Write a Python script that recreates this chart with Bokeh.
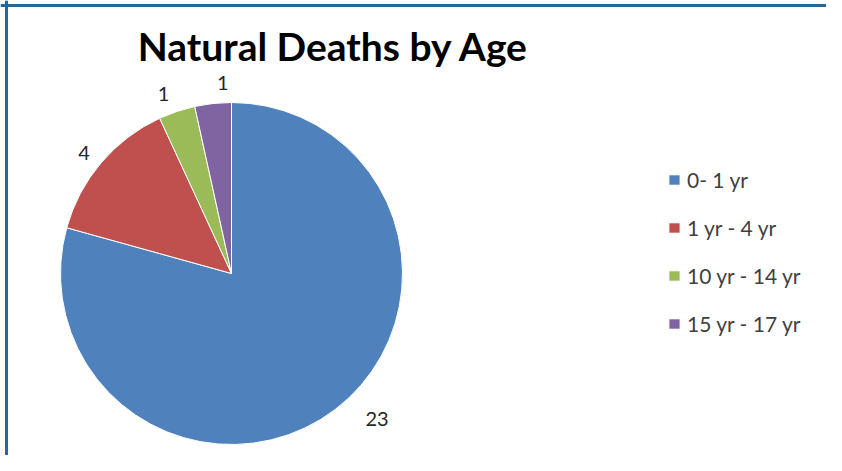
import numpy as np
from bokeh.plotting import figure
from bokeh.models import Range1d, ColumnDataSource, Legend, LegendItem, Span
from bokeh.core.properties import value
from bokeh.embed import file_html
from bokeh.resources import INLINE

# ---- data ----
chart_title = "Natural Deaths by Age"
categories = ["0- 1 yr", "1 yr - 4 yr", "10 yr - 14 yr", "15 yr - 17 yr"]
deaths = [23, 4, 1, 1]
colors = ["#4F81BD", "#C0504D", "#9BBB59", "#8064A2"]

# ---- layout (picture pixel helpers) ----
W, H = 826, 455
def px(x):
    return x
def py(y):
    return H - y

cx, cy, R = px(231), py(273), 171
label_r = 191
label_nudge_x = [30, -2, -7, 12]
label_nudge_y = [-7, 3, 2, -1]

vals = np.array(deaths, dtype=float)
frac = vals / vals.sum()
cum = np.concatenate([[0.0], np.cumsum(frac)])
start = np.pi / 2 - cum[:-1] * 2 * np.pi
end = np.pi / 2 - cum[1:] * 2 * np.pi
mid = (start + end) / 2

src = ColumnDataSource(dict(
    cat=categories, val=deaths, color=colors, start=start, end=end,
    lx=cx + label_r * np.cos(mid) + np.array(label_nudge_x),
    ly=cy + label_r * np.sin(mid) - np.array(label_nudge_y),
    txt=[str(v) for v in deaths],
))

p = figure(width=W, height=H, x_range=Range1d(0, W), y_range=Range1d(0, H),
           output_backend="svg", toolbar_location=None, min_border=0,
           x_axis_location=None, y_axis_location=None)
p.grid.visible = False
p.outline_line_color = None
p.background_fill_color = "white"
p.border_fill_color = "white"

wr = p.wedge(x=cx, y=cy, radius=R, start_angle="start", end_angle="end",
             direction="clock", fill_color="color", line_color="white",
             line_width=1, source=src)

p.text(x="lx", y="ly", text="txt", source=src, text_align="center",
       text_baseline="middle", text_font=value("Lato"),
       text_font_size="20px", text_color="#262626")

p.text(x=[px(333)], y=[py(45)], text=[chart_title], text_align="center",
       text_baseline="middle", text_font=value("Lato"),
       text_font_style="bold", text_font_size="39px", text_color="#000000")

legend = Legend(
    items=[LegendItem(label=c, renderers=[wr], index=i) for i, c in enumerate(categories)],
    location=(px(667), py(336)),
    glyph_width=14, glyph_height=13, label_standoff=6, spacing=23,
    label_height=13, padding=0, margin=0,
    border_line_color=None, background_fill_alpha=0,
    label_text_font="Lato", label_text_font_size="21px",
    label_text_color="#404040",
)
p.add_layout(legend, "center")

border_color = "#21699C"
p.add_layout(Span(location=px(6), dimension="height", line_color=border_color, line_width=3))
p.add_layout(Span(location=py(5), dimension="width", line_color=border_color, line_width=3))

open("out.html", "w").write(file_html(p, INLINE))
